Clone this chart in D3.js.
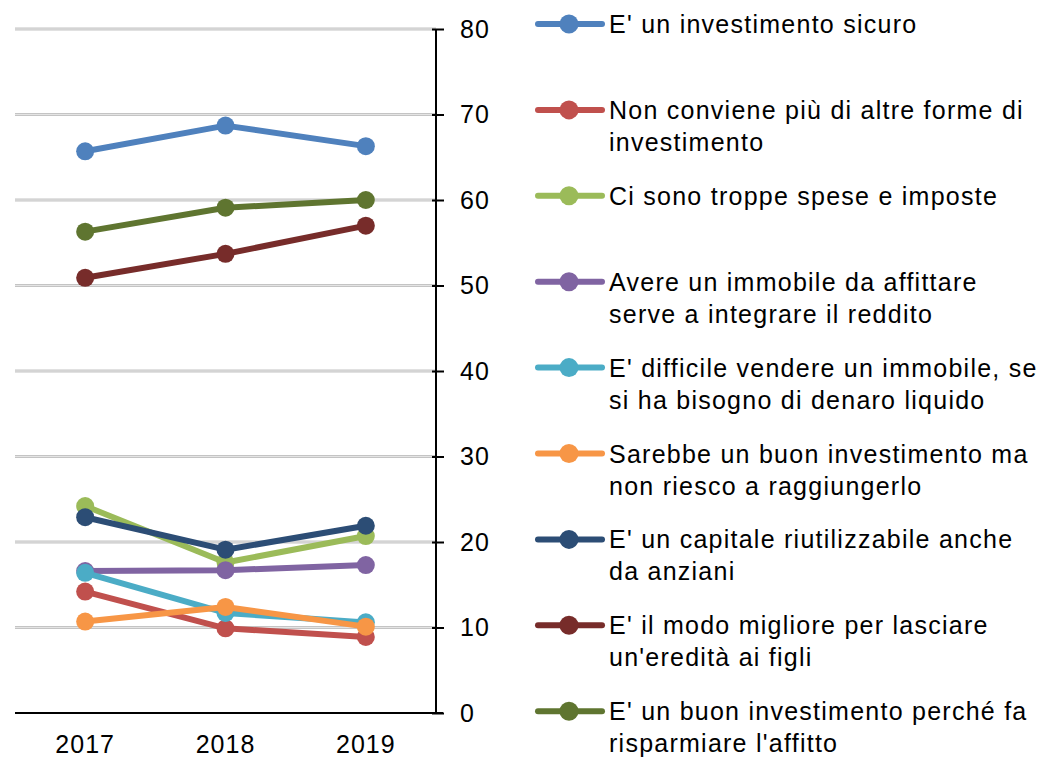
<!DOCTYPE html>
<html><head><meta charset="utf-8">
<script src="https://cdn.jsdelivr.net/npm/d3@7"></script>
<style>body{margin:0;background:#fff}</style>
</head><body>
<svg id="c" width="1040" height="758"></svg>
<script>
const years = ["2017","2018","2019"];
const yTicks = [0,10,20,30,40,50,60,70,80];
const seriesNames = [
  ["E' un investimento sicuro"],
  ["Non conviene più di altre forme di","investimento"],
  ["Ci sono troppe spese e imposte"],
  ["Avere un immobile da affittare","serve a integrare il reddito"],
  ["E' difficile vendere un immobile, se","si ha bisogno di denaro liquido"],
  ["Sarebbe un buon investimento ma","non riesco a raggiungerlo"],
  ["E' un capitale riutilizzabile anche","da anziani"],
  ["E' il modo migliore per lasciare","un'eredità ai figli"],
  ["E' un buon investimento perché fa","risparmiare l'affitto"]
];
const sicuro = [65.7, 68.7, 66.3];
const nonConviene = [14.2, 9.9, 8.9];
const spese = [24.2, 17.6, 20.7];
const affittare = [16.6, 16.7, 17.3];
const difficile = [16.4, 11.7, 10.6];
const buonMa = [10.7, 12.4, 10.1];
const capitale = [22.9, 19.1, 21.9];
const eredita = [50.9, 53.7, 57.0];
const risparmiare = [56.3, 59.1, 60.0];
const seriesValues = [sicuro, nonConviene, spese, affittare, difficile, buonMa, capitale, eredita, risparmiare];
const colors = ["#4F81BD","#C0504D","#9BBB59","#8064A2","#4BACC6","#F79646","#2C4D75","#772C2A","#5F7530"];

(function(){
const svg = d3.select("#c");
const font = "'Liberation Sans', Arial, sans-serif";
const pL = 15, pR = 436, pT = 29, pB = 713;
const x = d3.scaleBand().domain(years).range([pL, pR]);
const y = d3.scaleLinear().domain([0, 80]).range([pB, pT]);

// gridlines
const grid = svg.append("g");
yTicks.filter(t => t > 0).forEach(t => {
  grid.append("line").attr("x1", pL).attr("x2", pR).attr("y1", y(t)).attr("y2", y(t))
    .attr("stroke", "#c4c4c4").attr("stroke-width", 3);
  grid.append("line").attr("x1", pL).attr("x2", pR).attr("y1", y(t)).attr("y2", y(t))
    .attr("stroke", "#e4e4e4").attr("stroke-width", 1);
});

// x axis line
svg.append("line").attr("x1", pL).attr("x2", pR + 7).attr("y1", pB).attr("y2", pB)
  .attr("stroke", "#000").attr("stroke-width", 2);

// y axis on right
const yAxis = d3.axisRight(y).tickValues(yTicks).tickSize(8).tickPadding(16).tickFormat(d3.format("d"));
const ya = svg.append("g").attr("transform", `translate(${pR},0)`).call(yAxis);
ya.select(".domain").attr("stroke", "#000").attr("stroke-width", 2).attr("d", `M0,${pT}V${pB}`);
ya.selectAll(".tick line").attr("stroke", "#000").attr("stroke-width", 2).attr("x1", -4);
ya.selectAll(".tick text").attr("font-family", font).attr("font-size", 25)
  .attr("letter-spacing", 1).attr("fill", "#000");

// x labels
const xa = svg.append("g").attr("transform", `translate(0,${pB})`)
  .call(d3.axisBottom(x).tickSize(0).tickPadding(22));
xa.select(".domain").remove();
xa.selectAll(".tick text").attr("font-family", font).attr("font-size", 25)
  .attr("letter-spacing", 1).attr("fill", "#000");

// lines
const line = d3.line().x((d, i) => x(years[i]) + x.bandwidth() / 2).y(d => y(d));
seriesValues.forEach((vals, k) => {
  const g = svg.append("g");
  g.append("path").attr("d", line(vals)).attr("fill", "none").attr("stroke", colors[k])
    .attr("stroke-width", 6).attr("stroke-linejoin", "round");
  g.selectAll("circle").data(vals).join("circle")
    .attr("cx", (d, i) => x(years[i]) + x.bandwidth() / 2).attr("cy", d => y(d))
    .attr("r", 9).attr("fill", colors[k]);
});

// legend
const lg = svg.append("g");
seriesNames.forEach((lines, k) => {
  const cy = 24 + k * 85.9;
  lg.append("line").attr("x1", 538).attr("x2", 602).attr("y1", cy).attr("y2", cy)
    .attr("stroke", colors[k]).attr("stroke-width", 6).attr("stroke-linecap", "round");
  lg.append("circle").attr("cx", 569).attr("cy", cy).attr("r", 9.5).attr("fill", colors[k]);
  const t = lg.append("text").attr("x", 609).attr("y", cy + 9)
    .attr("font-family", font).attr("font-size", 25).attr("letter-spacing", 1.25).attr("fill", "#000");
  lines.forEach((s, j) => t.append("tspan").attr("x", 609).attr("dy", j === 0 ? 0 : 32).text(s));
});
})();
</script>
</body></html>
